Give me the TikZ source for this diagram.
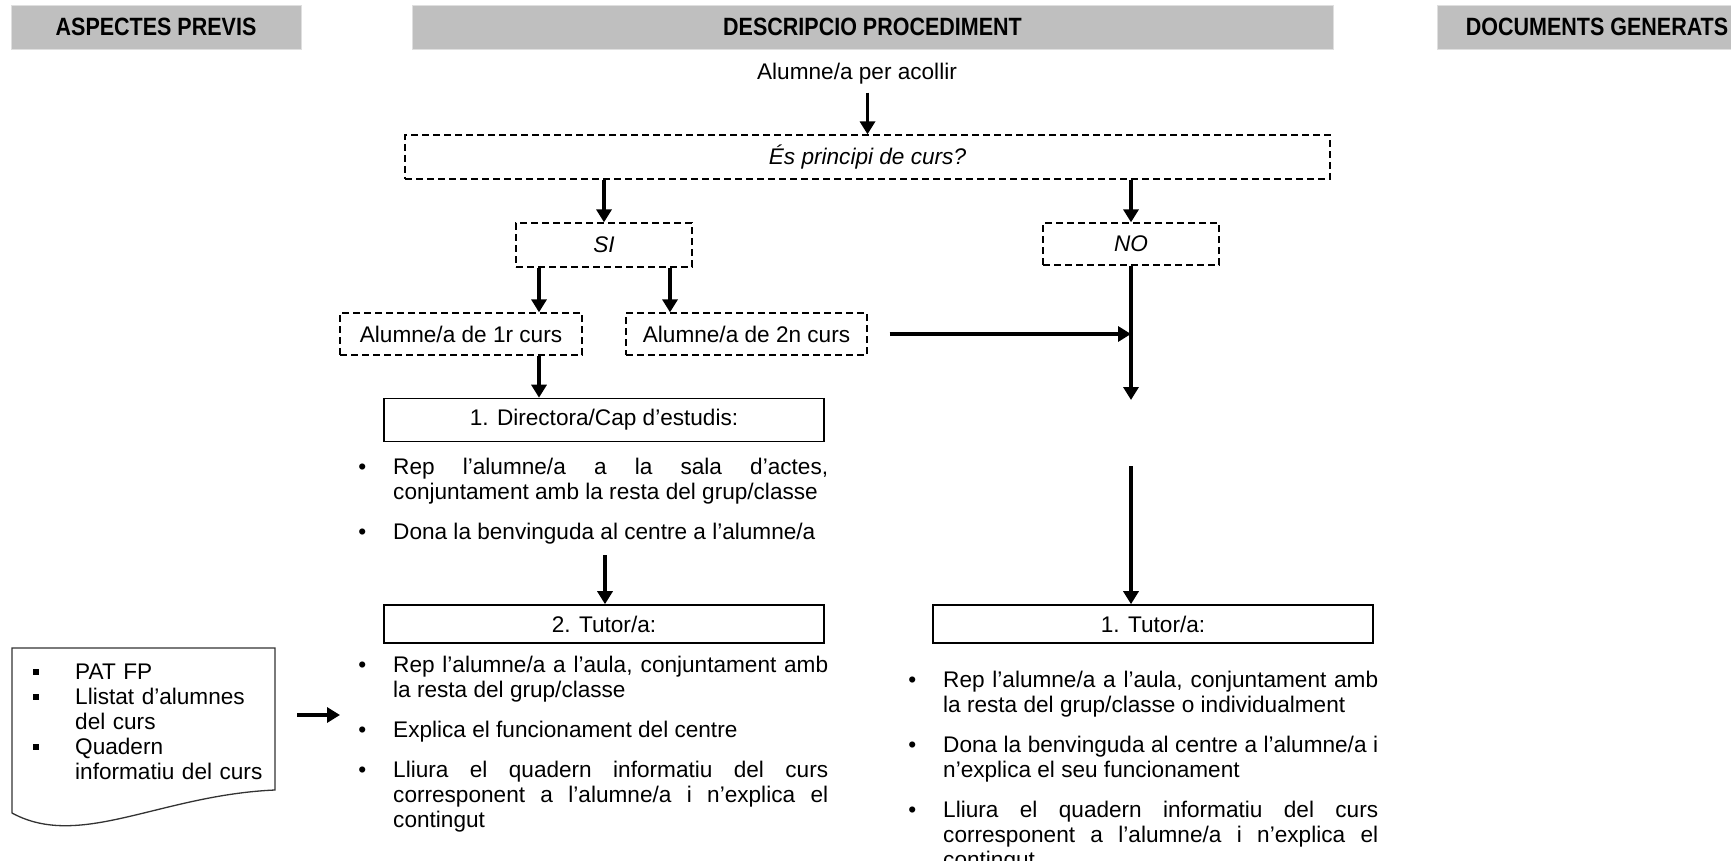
\documentclass[tikz,border=0pt]{standalone}
\usepackage{fontspec}
\setmainfont{Liberation Sans}
\newfontfamily\titolfont[FakeStretch=0.86]{Liberation Sans}
\usetikzlibrary{arrows.meta}
\hyphenpenalty=10000
\exhyphenpenalty=10000
\newcommand{\punt}[1]{\par\hangindent=31pt\hangafter=0\noindent\llap{\textbullet\hskip27pt}#1\par\vskip15pt}
\newcommand{\quadrat}[1]{\par\hangindent=42pt\hangafter=0\noindent\llap{\rule[5pt]{6pt}{6pt}\hskip36pt}#1\par}

\begin{document}
\begin{tikzpicture}[x=1pt, y=-1pt, font=\fontsize{22.6}{25}\selectfont]
    \tikzstyle{titol}=[fill=gray!50, draw=gray!25, minimum height=44pt, inner sep=0pt, font=\titolfont\bfseries\fontsize{25}{25}\selectfont]
    \tikzstyle{pregunta}=[draw, dash pattern=on 7pt off 4pt, line width=1.3pt, inner sep=0pt]
    \tikzstyle{agent}=[draw, line width=1.6pt, minimum width=440pt, inner sep=0pt]
    \tikzstyle{llista}=[anchor=north west, inner sep=0pt, text width=466pt, align=justify]
    \tikzstyle{fletxa}=[line width=3.6pt, -{Triangle[length=13pt,width=15pt]}]

    \useasboundingbox (0,0) rectangle (1731,861);

    \node[titol, minimum width=290pt] (h1) at (156,27) {ASPECTES PREVIS};
    \node[titol, minimum width=921pt] (h2) at (872.5,27) {DESCRIPCIO PROCEDIMENT};
    \node[titol, minimum width=320pt] (h3) at (1597,27) {DOCUMENTS GENERATS};

    \node[inner sep=0pt] (alumne) at (857,74) {Alumne/a per acollir};
    \node[pregunta, minimum width=925pt, minimum height=44pt] (principi) at (867.5,157) {\itshape És principi de curs?};
    \node[pregunta, minimum width=176pt, minimum height=44pt] (si) at (604,245) {\itshape SI};
    \node[pregunta, minimum width=176pt, minimum height=42pt] (no) at (1131,244) {\itshape NO};
    \node[pregunta, minimum width=242pt, minimum height=42pt] (curs1) at (461,334) {Alumne/a de 1r curs};
    \node[pregunta, minimum width=241pt, minimum height=42pt] (curs2) at (746.5,334) {Alumne/a de 2n curs};

    \node[agent, minimum height=43pt] (direccio) at (604,420) {1. Directora/Cap d’estudis:};
    \node[llista] (llistadir) at (362,449.5) {\punt{Rep l’alumne/a a la sala d’actes, conjuntament amb la resta del grup/classe}\punt{Dona la benvinguda al centre a l’alumne/a}};
    \node[agent, minimum height=38pt] (tutor2) at (604,624) {2. Tutor/a:};
    \node[llista] (llistatut2) at (362,647.5) {\punt{Rep l’alumne/a a l’aula, conjuntament amb la resta del grup/classe}\punt{Explica el funcionament del centre}\punt{Lliura el quadern informatiu del curs corresponent a l’alumne/a i n’explica el contingut}};
    \node[agent, minimum height=38pt] (tutor1) at (1153,624) {1. Tutor/a:};
    \node[llista] (llistatut1) at (912,662.5) {\punt{Rep l’alumne/a a l’aula, conjuntament amb la resta del grup/classe o individualment}\punt{Dona la benvinguda al centre a l’alumne/a i n’explica el seu funcionament}\punt{Lliura el quadern informatiu del curs corresponent a l’alumne/a i n’explica el contingut}};

    \draw[line width=1.3pt, draw=black!80, fill=white] (12,648) -- (275,648) -- (275,790) .. controls (160,795) and (80,850) .. (12,813) -- cycle;
    \node[llista, text width=240pt, align=left] (documents) at (33,654.5) {\quadrat{PAT FP}\quadrat{Llistat d’alumnes\newline del curs}\quadrat{Quadern\newline informatiu del curs}};

    \coordinate (colA) at (539,0);
    \coordinate (colB) at (670,0);
    \coordinate (nofi) at (1131,400);
    \coordinate (nosegueix) at (1131,466);
    \coordinate (dirfi) at (605,555);
    \coordinate (docini) at (297,715);
    \coordinate (docfi) at (340,715);

    \draw[fletxa, shorten <=8pt] (alumne.south -| principi.north) -- (principi.north);
    \draw[fletxa] (principi.south -| si) -- (si);
    \draw[fletxa] (principi.south -| no) -- (no);
    \draw[fletxa] (si.south -| colA) -- (curs1.north -| colA);
    \draw[fletxa] (si.south -| colB) -- (curs2.north -| colB);
    \draw[fletxa] (curs1.south -| colA) -- (direccio.north -| colA);
    \draw[fletxa] ([xshift=22pt]curs2.east) -- (curs2.east -| no);
    \draw[fletxa] (no) -- (nofi);
    \draw[fletxa] (nosegueix) -- (tutor1.north -| nosegueix);
    \draw[fletxa] (dirfi) -- (dirfi |- tutor2.north);
    \draw[fletxa] (docini) -- (docfi);
\end{tikzpicture}
\end{document}
